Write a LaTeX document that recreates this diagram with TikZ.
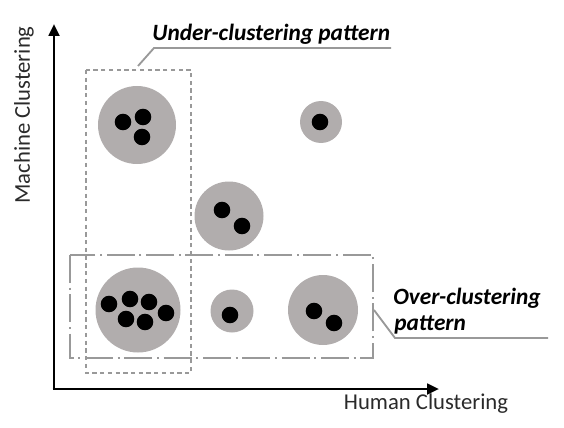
\documentclass[tikz,border=0pt]{standalone}
\usepackage{fontspec}
\setmainfont{Carlito}
\usetikzlibrary{arrows.meta}
\definecolor{cgray}{HTML}{B1ADAD}
\definecolor{bgray}{HTML}{999999}
\definecolor{tgray}{HTML}{2A2A2A}
\tikzset{
  clus/.style={circle, fill=cgray, inner sep=0pt, minimum size=#1},
  dot/.style={circle, fill=black, inner sep=0pt, minimum size=12.4pt},
  axis/.style={line width=2pt, -{Triangle[length=9pt,width=8pt]}},
  box/.style={draw=bgray, line width=1.8pt},
  leader/.style={draw=bgray, line width=1.4pt},
  lab/.style={font=\fontsize{17.5}{20}\selectfont\bfseries\itshape, inner sep=0pt, anchor=west},
  axlab/.style={font=\fontsize{17}{20}\selectfont, text=tgray, inner sep=0pt}
}
\begin{document}
\begin{tikzpicture}[x=0.75pt,y=-0.75pt]
\useasboundingbox (0,0) rectangle (564,428);
% axes
\coordinate (o) at (54,389);
\coordinate (ytip) at (54,24);
\coordinate (xtip) at (439,389);
\draw[axis] (o) -- (ytip);
\draw[axis] ([xshift=-1pt]o) -- (xtip);
\node[axlab, rotate=90] (ylab) at (24,115) {Machine Clustering};
\node[axlab] (xlab) at (426,404) {Human Clustering};
% boxes
\draw[box, dash pattern=on 3.2pt off 2.6pt] (86,70) rectangle (191,373);
\draw[box, dash pattern=on 21pt off 3.5pt on 1.5pt off 3.5pt] (70,255) rectangle (373,358);
% clusters
\node[clus=58.5pt] (c1) at (137,125) {};
\node[dot] at (123,122) {};
\node[dot] at (143,117) {};
\node[dot] at (142,137) {};
\node[clus=51.75pt] (c2) at (229,216) {};
\node[dot] at (222,210) {};
\node[dot] at (242,226) {};
\node[clus=31.5pt] (c3) at (321,122) {};
\node[dot] at (320,122) {};
\node[clus=63.75pt] (c4) at (138,310) {};
\node[dot] at (109,304) {};
\node[dot] at (130,299) {};
\node[dot] at (149,302) {};
\node[dot] at (166,313) {};
\node[dot] at (126,319) {};
\node[dot] at (145,322) {};
\node[clus=32.25pt] (c5) at (232,311) {};
\node[dot] at (230,315) {};
\node[clus=52.5pt] (c6) at (323,310) {};
\node[dot] at (314,311) {};
\node[dot] at (334,323) {};
% labels
\node[lab] (ul) at (152,34) {Under-clustering pattern};
\coordinate (u1) at (138,66);
\coordinate (u2) at (154,48);
\coordinate (u3) at (391,48);
\draw[leader] (u1) -- (u2) -- (u3);
\node[lab] (ol1) at (393,298) {Over-clustering};
\node[lab] (ol2) at (394,325) {pattern};
\coordinate (v1) at (374,310);
\coordinate (v2) at (395,338);
\coordinate (v3) at (548,338);
\draw[leader] (v1) -- (v2) -- (v3);
\end{tikzpicture}
\end{document}
